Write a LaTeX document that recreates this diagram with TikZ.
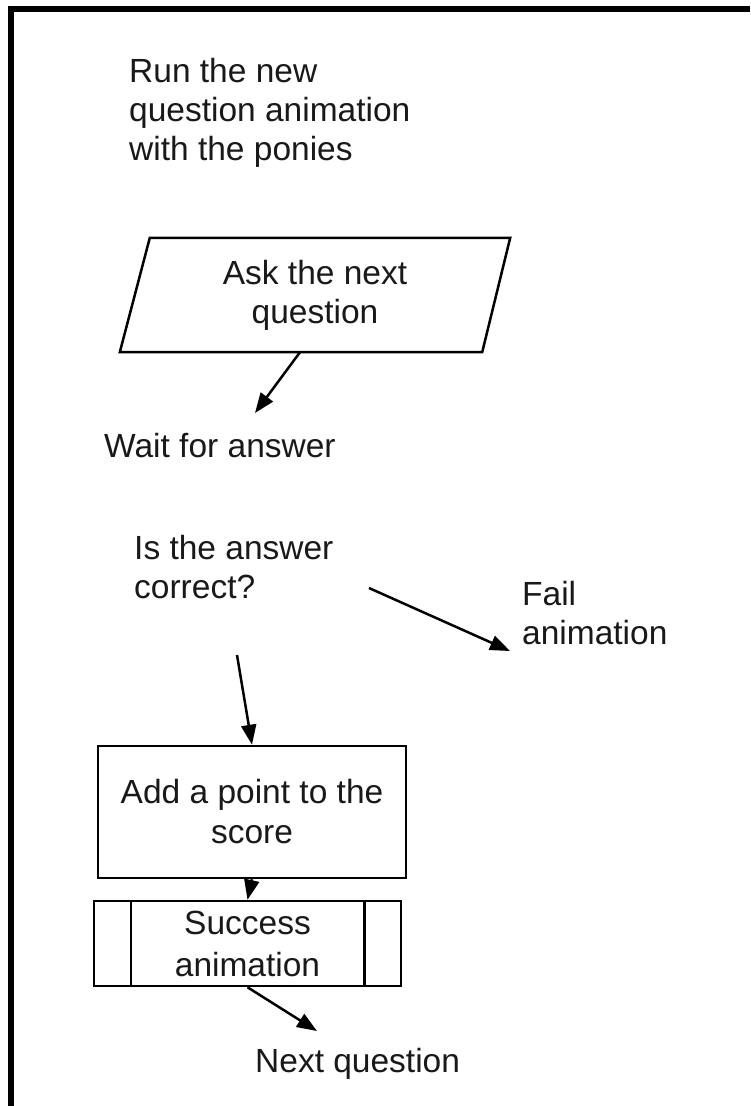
\documentclass[tikz,border=0pt]{standalone}
\usepackage{fontspec}
\setmainfont{Liberation Sans}
\usetikzlibrary{arrows.meta,calc}
\begin{document}
\begin{tikzpicture}[x=1pt,y=-1pt,
  txt/.style={inner sep=0pt,font=\fontsize{33.5}{39}\selectfont,text=black!90},
  boxed/.style={draw,line width=2.5pt,inner sep=0pt,font=\fontsize{33.5}{40}\selectfont,align=center,text=black!90},
  arr/.style={line width=2.5pt,-{Triangle[length=20pt,width=15pt]}}]
\useasboundingbox (0,0) rectangle (750,1106);
\fill[white] (0,0) rectangle (750,1106);
% frame
\draw[line width=6pt] (11,1106) -- (11,9) -- (750,9);

\node[txt,anchor=west,align=left] (run) at (129,113) {Run the new\\question animation\\with the ponies};

\node[txt,minimum width=390pt,minimum height=114pt,align=center] (ask) at (315,295) {Ask the next\\question};
\draw[line width=2.5pt,line join=miter] ($(ask.north west)+(30,0)$) -- (ask.north east) -- ($(ask.south east)+(-28,0)$) -- (ask.south west) -- cycle;

\node[txt,anchor=west] (wait) at (104,446) {Wait for answer};
\coordinate (waitin) at (255,413);
\draw[arr] ($(ask.south)+(-15,0)$) -- (waitin);

\node[txt,anchor=west,align=left] (q) at (134,567) {Is the answer\\correct?};
\node[txt,anchor=west,align=left] (fail) at (522,613) {Fail\\animation};
\coordinate (qout1) at (369,588);
\coordinate (failin) at (510,651);
\draw[arr] (qout1) -- (failin);

\node[boxed,minimum width=308pt,minimum height=132pt] (add) at (252,812) {Add a point to the\\score};
\coordinate (qout2) at (237,655);
\draw[arr] (qout2) -- (add.north);

\node[boxed,minimum width=307pt,minimum height=85pt,font=\fontsize{33.5}{42}\selectfont] (succ) at (247.5,943.5) {Success\\animation};
\draw[line width=2.5pt] ($(succ.north west)+(38,0)$) -- ($(succ.south west)+(38,0)$);
\draw[line width=2.5pt] ($(succ.north east)+(-38,0)$) -- ($(succ.south east)+(-38,0)$);
\draw[arr] (add.south) -- (succ.north);

\node[txt,anchor=west] (next) at (255,1064) {Next question};
\coordinate (nextin) at (317,1031);
\draw[arr] (succ.south) -- (nextin);
\end{tikzpicture}
\end{document}
